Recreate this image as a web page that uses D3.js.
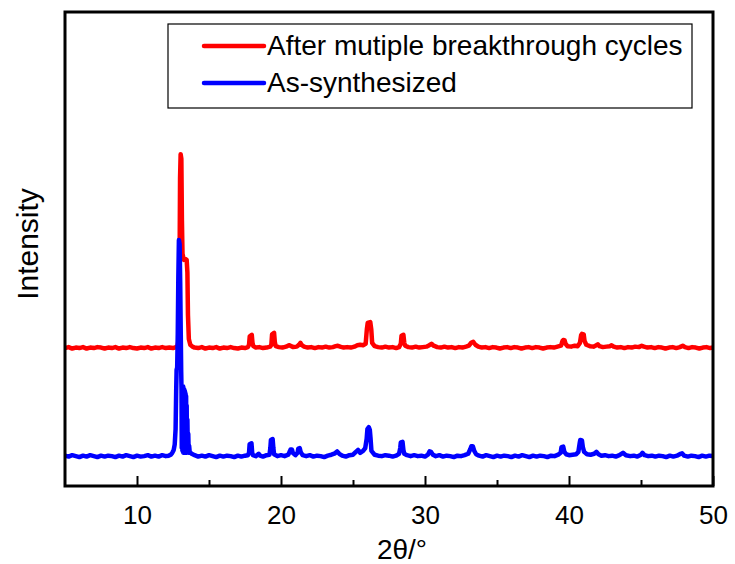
<!DOCTYPE html>
<html>
<head>
<meta charset="utf-8">
<script src="https://cdn.jsdelivr.net/npm/d3@7"></script>
<style>
  html, body { margin: 0; padding: 0; background: #fff; }
  svg { display: block; font-family: "Liberation Sans", Arial, sans-serif; }
</style>
</head>
<body>
<svg id="chart" width="735" height="564"></svg>
<script>
// XRD patterns: [2θ (deg), intensity (a.u.)]
const asSynthesized = [
  [5.0, 64],[5.25, 62],[5.5, 65],[5.75, 63],[6.0, 61],[6.25, 64],[6.5, 62],[6.75, 65],[7.0, 63],[7.25, 61],
  [7.5, 64],[7.75, 62],[8.0, 64],[8.25, 63],[8.5, 61],[8.75, 64],[9.0, 62],[9.25, 65],[9.5, 63],[9.75, 61],
  [10.0, 64],[10.25, 62],[10.5, 63],[10.75, 65],[11.0, 62],[11.25, 64],[11.5, 62],[11.75, 65],[12.0, 63],
  [12.2, 64],[12.35, 66],[12.45, 70],[12.55, 76],[12.62, 88],[12.68, 120],[12.72, 200],[12.75, 245],
  [12.79, 250],[12.83, 320],[12.87, 440],[12.91, 519],[12.96, 510],[13.0, 430],[13.04, 320],[13.07, 240],
  [13.09, 205],[13.11, 80],[13.13, 205],[13.15, 75],[13.17, 208],[13.19, 72],[13.21, 210],[13.23, 70],
  [13.25, 205],[13.27, 72],[13.29, 203],[13.31, 70],[13.33, 200],[13.35, 72],[13.37, 195],[13.39, 70],
  [13.41, 190],[13.43, 72],[13.45, 170],[13.47, 70],[13.5, 140],[13.53, 72],[13.56, 110],[13.59, 70],
  [13.62, 85],[13.66, 72],[13.8, 68],[14.0, 65],[14.25, 62],[14.5, 64],[14.75, 62],[15.0, 65],[15.25, 63],
  [15.5, 61],[15.75, 64],[16.0, 62],[16.25, 64],[16.5, 63],[16.75, 61],[17.0, 64],[17.25, 62],[17.5, 64],
  [17.7, 65],[17.78, 70],[17.82, 88],[17.95, 90],[18.0, 70],[18.05, 65],[18.25, 63],[18.45, 68],[18.55, 64],
  [18.75, 62],[19.0, 65],[19.2, 66],[19.26, 80],[19.3, 97],[19.42, 99],[19.47, 80],[19.52, 67],[19.75, 63],
  [20.0, 65],[20.25, 63],[20.5, 66],[20.6, 72],[20.67, 77],[20.76, 77],[20.82, 70],[21.0, 65],[21.15, 70],
  [21.2, 79],[21.3, 80],[21.36, 72],[21.5, 65],[21.75, 63],[22.0, 65],[22.25, 62],[22.5, 64],[22.75, 63],
  [23.0, 61],[23.25, 64],[23.5, 66],[23.75, 69],[23.9, 73],[24.05, 68],[24.25, 64],[24.5, 62],[24.75, 65],
  [25.0, 66],[25.2, 72],[25.35, 76],[25.5, 70],[25.7, 74],[25.85, 80],[25.95, 100],[26.0, 120],[26.1, 124],
  [26.17, 118],[26.22, 100],[26.28, 74],[26.5, 66],[26.75, 64],[27.0, 63],[27.25, 65],[27.5, 64],[27.75, 62],
  [28.0, 64],[28.2, 68],[28.28, 80],[28.32, 92],[28.44, 93],[28.5, 76],[28.56, 68],[28.75, 65],[29.0, 63],
  [29.25, 65],[29.5, 63],[29.75, 64],[30.0, 62],[30.2, 66],[30.32, 73],[30.42, 72],[30.55, 66],[30.75, 63],
  [31.0, 65],[31.25, 62],[31.5, 64],[31.75, 63],[32.0, 61],[32.25, 64],[32.5, 63],[32.75, 65],[33.0, 68],
  [33.15, 78],[33.22, 84],[33.32, 84],[33.42, 74],[33.55, 67],[33.75, 64],[34.0, 62],[34.25, 65],[34.5, 63],
  [34.75, 61],[35.0, 64],[35.25, 62],[35.5, 64],[35.75, 63],[36.0, 61],[36.25, 64],[36.5, 62],[36.75, 65],
  [37.0, 63],[37.25, 61],[37.5, 64],[37.75, 62],[38.0, 64],[38.25, 63],[38.5, 61],[38.75, 64],[39.0, 63],
  [39.25, 66],[39.42, 70],[39.48, 82],[39.6, 83],[39.68, 72],[39.8, 67],[40.0, 65],[40.25, 66],[40.5, 67],
  [40.65, 72],[40.74, 90],[40.78, 97],[40.9, 96],[40.96, 82],[41.05, 72],[41.25, 67],[41.5, 66],[41.75, 68],
  [41.9, 72],[42.05, 67],[42.25, 64],[42.5, 65],[42.75, 63],[43.0, 64],[43.25, 62],[43.5, 65],[43.75, 70],
  [43.95, 65],[44.25, 63],[44.5, 64],[44.75, 62],[45.0, 66],[45.1, 70],[45.25, 65],[45.5, 63],[45.75, 64],
  [46.0, 62],[46.25, 64],[46.5, 63],[46.75, 61],[47.0, 64],[47.25, 62],[47.5, 64],[47.75, 68],[47.85, 69],
  [48.0, 64],[48.25, 62],[48.5, 64],[48.75, 63],[49.0, 61],[49.25, 64],[49.5, 62],[49.75, 64],[50.0, 63]
];

const afterCycles = [
  [5.0, 61],[5.25, 63],[5.5, 60],[5.75, 62],[6.0, 61],[6.25, 63],[6.5, 60],[6.75, 62],[7.0, 61],[7.25, 63],
  [7.5, 62],[7.75, 60],[8.0, 62],[8.25, 61],[8.5, 63],[8.75, 60],[9.0, 62],[9.25, 61],[9.5, 63],[9.75, 61],
  [10.0, 60],[10.25, 62],[10.5, 61],[10.75, 63],[11.0, 60],[11.25, 62],[11.5, 61],[11.75, 63],[12.0, 61],
  [12.25, 62],[12.5, 61],[12.7, 63],[12.82, 66],[12.9, 80],[12.95, 200],[12.99, 420],[13.03, 470],
  [13.08, 460],[13.12, 330],[13.16, 260],[13.25, 247],[13.35, 249],[13.45, 247],[13.5, 220],[13.54, 130],
  [13.6, 80],[13.7, 68],[13.85, 64],[14.0, 62],[14.25, 61],[14.5, 63],[14.75, 60],[15.0, 62],[15.25, 61],
  [15.5, 63],[15.75, 60],[16.0, 62],[16.25, 61],[16.5, 63],[16.75, 61],[17.0, 60],[17.25, 62],[17.5, 61],
  [17.7, 63],[17.78, 68],[17.83, 86],[17.97, 89],[18.02, 72],[18.08, 65],[18.25, 62],[18.5, 63],[18.75, 61],
  [19.0, 62],[19.25, 64],[19.33, 68],[19.38, 90],[19.52, 93],[19.57, 74],[19.63, 65],[19.85, 63],[20.1, 62],
  [20.35, 64],[20.55, 67],[20.65, 66],[20.85, 63],[21.1, 64],[21.25, 68],[21.35, 72],[21.45, 67],[21.6, 64],
  [21.85, 62],[22.1, 63],[22.35, 61],[22.6, 63],[22.85, 62],[23.1, 64],[23.35, 62],[23.6, 63],[23.8, 65],
  [23.95, 66],[24.1, 64],[24.35, 62],[24.6, 63],[24.85, 62],[25.1, 64],[25.3, 67],[25.5, 68],[25.7, 67],
  [25.88, 70],[25.96, 100],[26.02, 114],[26.2, 116],[26.27, 100],[26.33, 72],[26.5, 65],[26.75, 63],
  [27.0, 62],[27.25, 64],[27.5, 62],[27.75, 63],[28.0, 61],[28.2, 63],[28.32, 70],[28.37, 87],[28.5, 89],
  [28.56, 72],[28.62, 66],[28.85, 63],[29.1, 62],[29.35, 64],[29.6, 62],[29.85, 63],[30.1, 64],[30.3, 67],
  [30.45, 70],[30.6, 66],[30.85, 63],[31.1, 62],[31.35, 64],[31.6, 62],[31.85, 63],[32.1, 61],[32.35, 63],
  [32.6, 62],[32.85, 64],[33.05, 66],[33.2, 72],[33.35, 74],[33.5, 68],[33.7, 64],[33.95, 62],[34.2, 63],
  [34.45, 61],[34.7, 63],[34.95, 62],[35.2, 60],[35.45, 62],[35.7, 63],[35.95, 61],[36.2, 63],[36.45, 62],
  [36.7, 60],[36.95, 62],[37.2, 63],[37.45, 61],[37.7, 63],[37.95, 62],[38.2, 60],[38.45, 62],[38.7, 63],
  [38.95, 62],[39.2, 64],[39.45, 66],[39.55, 76],[39.6, 78],[39.7, 77],[39.76, 70],[39.9, 65],[40.15, 64],
  [40.4, 66],[40.6, 65],[40.76, 72],[40.84, 88],[40.9, 91],[41.02, 90],[41.08, 76],[41.2, 68],[41.45, 65],
  [41.7, 64],[41.9, 67],[42.0, 69],[42.12, 65],[42.35, 63],[42.6, 64],[42.85, 65],[42.96, 67],[43.1, 64],
  [43.35, 62],[43.6, 63],[43.85, 61],[44.1, 63],[44.35, 62],[44.6, 64],[44.85, 63],[45.05, 66],[45.2, 64],
  [45.45, 62],[45.7, 63],[45.95, 61],[46.2, 63],[46.45, 62],[46.7, 60],[46.95, 62],[47.2, 63],[47.45, 61],
  [47.7, 63],[47.9, 66],[48.05, 63],[48.3, 61],[48.55, 63],[48.8, 62],[49.05, 60],[49.3, 62],[49.55, 63],
  [49.8, 61],[50.0, 62]
];

// vertical stacking offset for the upper pattern
const afterOffset = 230;

const seriesNames = ["After mutiple breakthrough cycles", "As-synthesized"];
const seriesColors = ["#ff0000", "#0000ff"];
const xMajorTicks = [10, 20, 30, 40, 50];
const xMinorTicks = [15, 25, 35, 45];
const xTitle = "2\u03b8/\u00b0";
const yTitle = "Intensity";

const svg = d3.select("#chart");
const m = { left: 65, top: 12, right: 22, bottom: 78 };
const W = 735, H = 564;
const pw = W - m.left - m.right, ph = H - m.top - m.bottom;

const x = d3.scaleLinear().domain([5, 50]).range([m.left, m.left + pw]);
const y = d3.scaleLinear().domain([0, 1000]).range([m.top + ph, m.top]);

const g = svg.append("g");

const line = d3.line().x(d => x(d[0])).y(d => y(d[1]));

const series = [
  { name: seriesNames[0], color: seriesColors[0], data: afterCycles.map(d => [d[0], d[1] + afterOffset]) },
  { name: seriesNames[1], color: seriesColors[1], data: asSynthesized }
];

svg.append("clipPath").attr("id", "plotclip")
  .append("rect").attr("x", m.left).attr("y", m.top).attr("width", pw).attr("height", ph);

g.append("g").attr("clip-path", "url(#plotclip)")
  .selectAll("path").data(series).join("path")
  .attr("d", d => line(d.data))
  .attr("fill", "none")
  .attr("stroke", d => d.color)
  .attr("stroke-width", 4.5)
  .attr("stroke-linejoin", "round");

// bottom axis, ticks pointing inward
const xAxis = d3.axisBottom(x).tickValues(xMajorTicks).tickSize(-10).tickPadding(20).tickFormat(d3.format("d"));
const ax = g.append("g").attr("transform", `translate(0,${m.top + ph})`).call(xAxis);
ax.select(".domain").remove();
ax.selectAll(".tick line").attr("stroke", "#000").attr("stroke-width", 2);
ax.selectAll(".tick text").attr("font-size", 26).attr("fill", "#000")
  .attr("font-family", "Liberation Sans, Arial, sans-serif");

const axMinor = d3.axisBottom(x).tickValues(xMinorTicks).tickSize(-6).tickFormat("");
const axm = g.append("g").attr("transform", `translate(0,${m.top + ph})`).call(axMinor);
axm.select(".domain").remove();
axm.selectAll(".tick line").attr("stroke", "#000").attr("stroke-width", 2);

// frame
g.append("rect")
  .attr("x", m.left).attr("y", m.top).attr("width", pw).attr("height", ph)
  .attr("fill", "none").attr("stroke", "#000").attr("stroke-width", 3);

// axis titles
g.append("text")
  .attr("x", 402).attr("y", 559)
  .attr("text-anchor", "middle").attr("font-size", 28).attr("fill", "#000")
  .text(xTitle);

g.append("text")
  .attr("transform", "translate(38,244) rotate(-90)")
  .attr("text-anchor", "middle").attr("font-size", 30).attr("fill", "#000")
  .text(yTitle);

// legend
const lg = g.append("g");
lg.append("rect")
  .attr("x", 168).attr("y", 24).attr("width", 524).attr("height", 84)
  .attr("fill", "#fff").attr("stroke", "#000").attr("stroke-width", 1.2);

const items = lg.selectAll("g.item").data(series).join("g")
  .attr("class", "item")
  .attr("transform", (d, i) => `translate(0,${i * 37})`);
items.append("line")
  .attr("x1", 204).attr("x2", 264).attr("y1", 46).attr("y2", 46)
  .attr("stroke", d => d.color).attr("stroke-width", 4.5).attr("stroke-linecap", "round");
items.append("text")
  .attr("x", 267).attr("y", 55)
  .attr("font-size", 28).attr("fill", "#000")
  .text(d => d.name);
</script>
</body>
</html>
